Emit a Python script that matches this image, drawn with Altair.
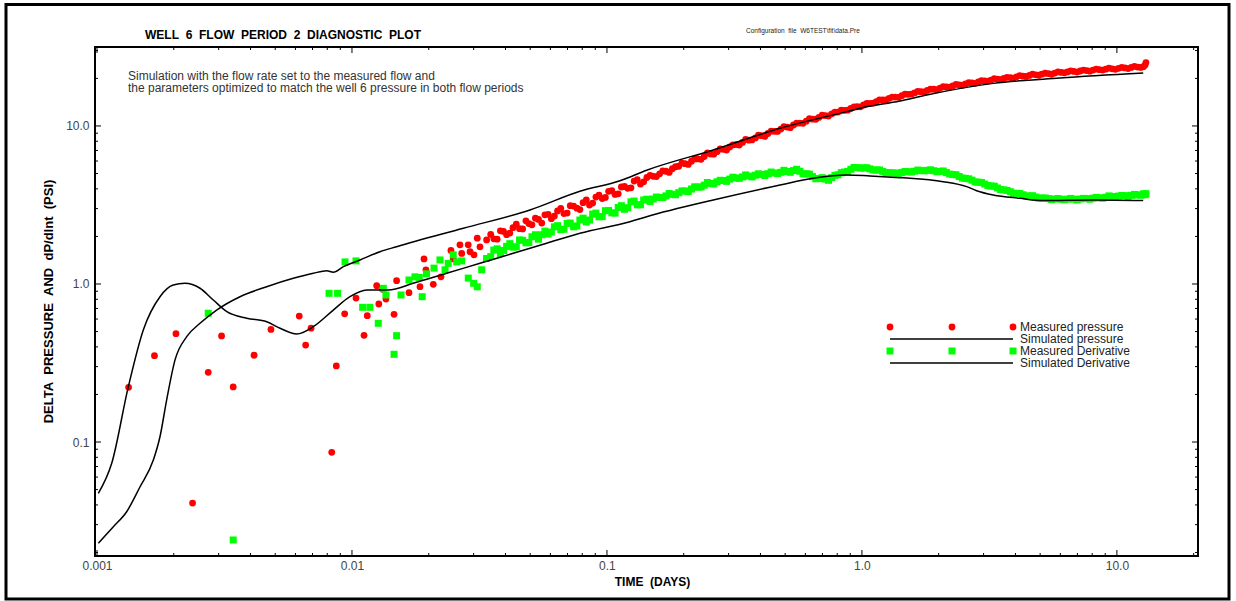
import altair as alt
import pandas as pd

# ---------------------------------------------------------------
# Well 6, flow period 2 - log-log diagnostic plot
# ---------------------------------------------------------------

# Simulated (model) pressure change, psi vs time, days
sim_p_t = [0.001012, 0.001159, 0.001307, 0.001475, 0.001663, 0.001766, 0.001876, 0.002023,
           0.002248, 0.002535, 0.002946, 0.003637, 0.004628, 0.005886, 0.007052, 0.007961,
           0.008448, 0.00925, 0.01075, 0.01288, 0.01496, 0.02733, 0.0499, 0.0783, 0.1124,
           0.1431, 0.2611, 0.477, 0.871, 0.982, 1.409, 1.794, 3.273, 5.976, 12.68]
sim_p_v = [0.0229, 0.0291, 0.0362, 0.0521, 0.0769, 0.108, 0.185, 0.331, 0.464, 0.564,
           0.684, 0.831, 0.961, 1.086, 1.169, 1.213, 1.186, 1.287, 1.419, 1.601,
           1.722, 2.252, 2.94, 3.86, 4.50, 5.25, 7.05, 9.67, 12.32, 12.95,
           14.39, 15.7, 18.6, 20.1, 21.6]

# Simulated (model) derivative dP/dlnt
sim_d_t = [0.001012, 0.001142, 0.001327, 0.001519, 0.001766, 0.00199, 0.002213, 0.002535,
           0.002858, 0.00323, 0.003864, 0.004628, 0.005223, 0.006074, 0.007052, 0.008448,
           0.00982, 0.01143, 0.01388, 0.01738, 0.0235, 0.03177, 0.0429, 0.058, 0.0783,
           0.123, 0.1431, 0.2611, 0.477, 0.644, 0.871, 1.075, 1.409, 1.542, 2.084, 2.574,
           2.818, 3.273, 4.165, 5.14, 8.07, 12.68]
sim_d_v = [0.0473, 0.0733, 0.224, 0.512, 0.831, 0.985, 1.01, 0.94, 0.792, 0.668,
           0.607, 0.577, 0.525, 0.483, 0.537, 0.684, 0.831, 0.916, 0.916, 1.01,
           1.169, 1.352, 1.564, 1.81, 2.094, 2.48, 2.667, 3.40, 4.23, 4.67,
           4.90, 4.83, 4.71, 4.67, 4.44, 4.13, 3.895, 3.66, 3.486, 3.37, 3.40, 3.37]

# Measured pressure, early (sparse) readings
meas_p_early_t = [0.00133, 0.00168, 0.00204, 0.00237, 0.00273, 0.00308, 0.00342, 0.00413,
                  0.00481, 0.00621, 0.00658, 0.00691, 0.00833, 0.00868, 0.00936, 0.01037,
                  0.01115, 0.01148, 0.0125, 0.01274, 0.01318, 0.01359, 0.01462, 0.01496,
                  0.01673, 0.01848, 0.01916, 0.0195, 0.02084, 0.02234, 0.02444, 0.02495,
                  0.02651, 0.02693, 0.02857, 0.02904, 0.0301, 0.0310, 0.03177, 0.03373]
meas_p_early_v = [0.222, 0.352, 0.485, 0.0411, 0.276, 0.469, 0.223, 0.354, 0.516, 0.627,
                  0.411, 0.525, 0.0861, 0.303, 0.648, 0.815, 0.473, 0.630, 0.976, 0.747,
                  0.926, 0.803, 0.643, 1.05, 0.881, 0.961, 1.44, 1.23, 0.995, 1.11,
                  1.63, 1.44, 1.77, 1.56, 1.77, 1.60, 1.53, 1.95, 1.72, 1.90]

# Measured derivative, early (sparse) readings
meas_d_early_t = [0.00273, 0.00342, 0.00813, 0.00878, 0.00939, 0.01037, 0.01101, 0.01175,
                  0.01268, 0.01327, 0.01359, 0.01462, 0.01496, 0.01557, 0.01673, 0.01766,
                  0.01836, 0.01885, 0.0196, 0.02098, 0.02213, 0.02317, 0.02385, 0.02495,
                  0.02574, 0.02693, 0.02858, 0.0300, 0.0310, 0.03226, 0.0337]
meas_d_early_v = [0.653, 0.0240, 0.873, 0.873, 1.38, 1.40, 0.712, 0.712, 0.564, 0.939,
                  0.852, 0.359, 0.471, 0.852, 1.06, 1.11, 1.10, 0.831, 1.16, 1.26,
                  1.42, 1.23, 1.35, 1.53, 1.38, 1.40, 1.09, 1.01, 0.96, 1.23, 1.45]

# Dense gauge record, scan A (shared time base for pressure and derivative)
dense_t = [0.0350, 0.0371, 0.0393, 0.0416, 0.0441, 0.0467, 0.0494, 0.0524, 0.0555, 0.0588,
           0.0622, 0.0659, 0.0698, 0.0740, 0.0783, 0.0830, 0.0879, 0.0931, 0.0986,
           0.1045, 0.1107, 0.1172, 0.1242, 0.1315, 0.1393, 0.1476, 0.1563, 0.1656, 0.1754,
           0.1858, 0.1968, 0.2084, 0.2208, 0.2339, 0.2477, 0.2624, 0.2780, 0.2944, 0.3119,
           0.3304, 0.3499, 0.3707, 0.3926, 0.4159, 0.4406, 0.4667, 0.4943, 0.5236, 0.5546,
           0.5875, 0.6223, 0.6592, 0.6982, 0.7396, 0.7834, 0.8299, 0.8790, 0.9311, 0.9863,
           1.045, 1.107, 1.172, 1.242, 1.315, 1.393, 1.476, 1.563, 1.656, 1.754,
           1.858, 1.968, 2.084, 2.208, 2.339, 2.477, 2.624, 2.780, 2.944, 3.119,
           3.304, 3.499, 3.707, 3.926, 4.159, 4.406, 4.667, 4.943, 5.236, 5.546,
           5.875, 6.223, 6.592, 6.982, 7.396, 7.834, 8.299, 8.790, 9.311, 9.863,
           10.45, 11.07, 11.72, 12.42, 12.7, 12.9, 13.0]
dense_p = [2.06, 1.92, 2.15, 2.10, 2.39, 2.23, 2.41, 2.61, 2.43, 2.76,
           2.69, 3.01, 2.81, 3.11, 2.96, 3.40, 3.25, 3.65, 3.53,
           3.89, 3.72, 4.14, 4.06, 4.57, 4.43, 4.87, 4.78, 5.19, 5.08,
           5.52, 5.82, 5.71, 6.19, 6.15, 6.75, 6.63, 7.15, 7.04, 7.59,
           7.57, 8.23, 8.16, 8.74, 8.58, 9.27, 9.23, 9.92, 9.76, 10.42,
           10.39, 11.14, 11.03, 11.69, 11.56, 12.22, 12.58, 12.59, 13.19, 13.22,
           13.90, 13.95, 14.62, 14.60, 15.23, 15.18, 15.89, 15.88, 16.55, 16.43,
           17.08, 16.99, 17.71, 17.62, 18.31, 18.13, 18.78, 18.61, 19.35, 19.22,
           19.91, 19.64, 20.30, 20.08, 20.81, 20.58, 21.27, 20.94, 21.56, 21.24,
           21.96, 21.69, 22.35, 21.94, 22.56, 22.20, 22.91, 22.59, 23.26, 22.82,
           23.45, 23.06, 23.81, 23.46, 23.74, 24.3, 25.2]
dense_d = [1.49, 1.67, 1.63, 1.80, 1.72, 1.89, 1.83, 2.05, 2.05, 2.07,
           2.30, 2.21, 2.42, 2.30, 2.54, 2.47, 2.77, 2.66, 2.91,
           2.82, 3.05, 2.97, 3.31, 3.17, 3.40, 3.33, 3.55, 3.52, 3.74,
           3.67, 3.88, 3.84, 4.12, 4.11, 4.39, 4.30, 4.53, 4.46, 4.74,
           4.66, 4.90, 4.76, 4.98, 4.86, 5.11, 5.00, 5.24, 5.09, 5.32,
           4.98, 4.96, 4.63, 4.71, 4.53, 4.87, 5.06, 5.16, 5.46, 5.41,
           5.44, 5.27, 5.27, 5.07, 5.05, 5.00, 5.15, 5.11, 5.26, 5.20,
           5.28, 5.13, 5.19, 4.96, 4.91, 4.68, 4.63, 4.42, 4.39, 4.20,
           4.16, 3.96, 3.91, 3.75, 3.74, 3.61, 3.62, 3.49, 3.50, 3.42,
           3.47, 3.41, 3.48, 3.40, 3.48, 3.44, 3.53, 3.49, 3.61, 3.55,
           3.63, 3.59, 3.69, 3.65, 3.72, 3.67, 3.73]

# Dense gauge record, scan B (readings taken between the scan A times)
dense_t_b = [0.0360, 0.0382, 0.0404, 0.0428, 0.0454, 0.0481, 0.0508, 0.0539, 0.0571, 0.0605,
             0.0640, 0.0678, 0.0718, 0.0762, 0.0806, 0.0854, 0.0905, 0.0958, 0.1015, 0.1076,
             0.1139, 0.1206, 0.1278, 0.1353, 0.1434, 0.1519, 0.1609, 0.1704, 0.1805, 0.1912,
             0.2025, 0.2145, 0.2272, 0.2407, 0.2549, 0.2701, 0.2861, 0.3030, 0.3210, 0.3401,
             0.360, 0.382, 0.404, 0.428, 0.454, 0.481, 0.508, 0.539, 0.571, 0.605,
             0.640, 0.678, 0.718, 0.762, 0.806, 0.854, 0.905, 0.958, 1.015, 1.076,
             1.139, 1.206, 1.278, 1.353, 1.434, 1.519, 1.609, 1.704, 1.805, 1.912,
             2.025, 2.145, 2.272, 2.407, 2.549, 2.701, 2.861, 3.030, 3.210, 3.401,
             3.60, 3.82, 4.04, 4.28, 4.54, 4.81, 5.08, 5.39, 5.71, 6.05,
             6.40, 6.78, 7.18, 7.62, 8.06, 8.54, 9.05, 9.58, 10.15, 10.76,
             11.39, 12.06]
dense_p_b = [1.93, 2.17, 2.05, 2.27, 2.24, 2.51, 2.37, 2.56, 2.74, 2.59,
             2.90, 2.79, 3.13, 3.02, 3.27, 3.16, 3.55, 3.47, 3.86, 3.69,
             4.11, 4.03, 4.48, 4.29, 4.72, 4.80, 4.98, 5.17, 5.36, 5.56,
             5.77, 5.98, 6.19, 6.41, 6.64, 6.87, 7.11, 7.36, 7.62, 7.87,
             8.13, 8.40, 8.68, 8.96, 9.25, 9.55, 9.84, 10.14, 10.43, 10.73,
             11.04, 11.33, 11.63, 11.93, 12.25, 12.57, 12.90, 13.23, 13.57, 13.91,
             14.25, 14.60, 14.93, 15.24, 15.55, 15.87, 16.18, 16.47, 16.77, 17.07,
             17.36, 17.64, 17.92, 18.20, 18.48, 18.74, 19.00, 19.26, 19.52, 19.76,
             20.00, 20.24, 20.46, 20.67, 20.87, 21.08, 21.28, 21.45, 21.63, 21.80,
             21.97, 22.12, 22.27, 22.43, 22.58, 22.72, 22.87, 23.01, 23.16, 23.31,
             23.45, 23.60]
dense_d_b = [1.64, 1.56, 1.73, 1.71, 1.90, 1.82, 1.99, 1.92, 2.16, 2.13,
             2.34, 2.22, 2.43, 2.33, 2.61, 2.54, 2.81, 2.67, 2.92, 2.81,
             3.13, 3.04, 3.35, 3.17, 3.44, 3.45, 3.53, 3.61, 3.69, 3.78,
             3.88, 3.99, 4.10, 4.22, 4.33, 4.43, 4.52, 4.61, 4.69, 4.76,
             4.82, 4.88, 4.94, 4.99, 5.04, 5.09, 5.15, 5.22, 5.17, 4.98,
             4.78, 4.65, 4.61, 4.71, 4.91, 5.11, 5.32, 5.45, 5.43, 5.35,
             5.26, 5.16, 5.06, 5.04, 5.08, 5.13, 5.17, 5.22, 5.24, 5.21,
             5.16, 5.07, 4.93, 4.79, 4.66, 4.54, 4.41, 4.29, 4.17, 4.05,
             3.94, 3.84, 3.75, 3.67, 3.60, 3.55, 3.50, 3.47, 3.45, 3.44,
             3.44, 3.44, 3.45, 3.47, 3.49, 3.51, 3.54, 3.58, 3.60, 3.62,
             3.64, 3.66]

# Axis tick labels
x_tick_values = [0.001, 0.01, 0.1, 1.0, 10.0]
x_tick_labels = ["0.001", "0.01", "0.1", "1.0", "10.0"]
y_tick_values = [0.1, 1.0, 10.0]
y_tick_labels = ["0.1", "1.0", "10.0"]

legend_labels = ["Measured  pressure", "Simulated  pressure",
                 "Measured  Derivative", "Simulated  Derivative"]

# ---------------------------------------------------------------
W, H = 1103, 509
FONT = "Liberation Sans, Arial, Helvetica, sans-serif"
RED = "#ff0000"
GREEN = "#00ff00"
DOT = 46
SQ = 49

xs = alt.Scale(type="log", domain=[0.000982, 20.8], nice=False)
ys = alt.Scale(type="log", domain=[0.0190, 31.6], nice=False)


def label_expr(vals, labs):
    parts = [f"datum.value < {v * 1.5} ? '{l}'" for v, l in zip(vals[:-1], labs[:-1])]
    return " : ".join(parts) + f" : '{labs[-1]}'"


x_axis = alt.Axis(values=x_tick_values, labelExpr=label_expr(x_tick_values, x_tick_labels),
                  ticks=False, tickSize=0, domain=False, grid=False,
                  labelFont=FONT, labelFontSize=12, labelColor="#444", labelPadding=4,
                  title="TIME\u00a0\u00a0(DAYS)", titleFont=FONT, titleFontSize=12,
                  titleFontWeight="bold", titleColor="black",
                  titleX=557, titleY=25, titleBaseline="middle", titleAlign="center")
y_axis = alt.Axis(values=y_tick_values, labelExpr=label_expr(y_tick_values, y_tick_labels),
                  ticks=False, tickSize=0, domain=False, grid=False,
                  labelFont=FONT, labelFontSize=12, labelColor="#444", labelPadding=6,
                  title="DELTA\u00a0\u00a0PRESSURE\u00a0\u00a0AND\u00a0\u00a0dP/dlnt\u00a0\u00a0(PSI)",
                  titleFont=FONT, titleFontSize=13, titleFontWeight="bold", titleColor="black",
                  titleX=-47, titleY=254, titleAngle=270, titleBaseline="middle",
                  titleAlign="center")


def X(field):
    return alt.X(field, scale=xs, axis=x_axis)


def Y(field):
    return alt.Y(field, scale=ys, axis=y_axis)


meas_p = pd.DataFrame({"t": meas_p_early_t + dense_t + dense_t_b,
                       "v": meas_p_early_v + dense_p + dense_p_b})
meas_d = pd.DataFrame({"t": meas_d_early_t + dense_t + dense_t_b,
                       "v": meas_d_early_v + dense_d + dense_d_b})
sim_p = pd.DataFrame({"t": sim_p_t, "v": sim_p_v})
sim_d = pd.DataFrame({"t": sim_d_t, "v": sim_d_v})

pressure_pts = alt.Chart(meas_p).mark_point(shape="circle", filled=True, size=DOT,
                                            opacity=1, color=RED).encode(x=X("t:Q"), y=Y("v:Q"))
deriv_pts = alt.Chart(meas_d).mark_square(size=SQ, opacity=1, color=GREEN).encode(
    x=X("t:Q"), y=Y("v:Q"))


def sim_line(df):
    return alt.Chart(df).mark_line(color="black", strokeWidth=1.5,
                                   interpolate="monotone").encode(
        x=X("t:Q"), y=Y("v:Q"), order="t:Q")


# Inward-pointing frame ticks on all four sides
def minor_values(lo, hi):
    out = []
    for e in range(-4, 3):
        for m in range(2, 10):
            v = m * 10.0 ** e
            if lo <= v <= hi:
                out.append(v)
    return out


x_minor = minor_values(0.000982, 20.8)
y_minor = minor_values(0.0190, 31.6)


def x_ticks(vals, length):
    base = alt.Chart(pd.DataFrame({"t": vals})).mark_rule(color="black", strokeWidth=1)
    return [base.encode(x=X("t:Q"), y=alt.value(H), y2=alt.value(H - length)),
            base.encode(x=X("t:Q"), y=alt.value(0), y2=alt.value(length))]


def y_ticks(vals, length):
    base = alt.Chart(pd.DataFrame({"v": vals})).mark_rule(color="black", strokeWidth=1)
    return [base.encode(y=Y("v:Q"), x=alt.value(0), x2=alt.value(length)),
            base.encode(y=Y("v:Q"), x=alt.value(W), x2=alt.value(W - length))]


ticks = x_ticks(x_tick_values, 6) + x_ticks(x_minor, 3) + y_ticks(y_tick_values, 6) + y_ticks(y_minor, 3)

one = pd.DataFrame({"s": [""]})


def text(s, x, y, size=11, weight="normal", color="black", align="left"):
    return alt.Chart(pd.DataFrame({"s": [s]})).mark_text(
        font=FONT, fontSize=size, fontWeight=weight, color=color, align=align,
        baseline="middle").encode(x=alt.value(x), y=alt.value(y), text="s:N")


title = text("WELL\u00a0\u00a06\u00a0\u00a0FLOW\u00a0\u00a0PERIOD\u00a0\u00a02\u00a0\u00a0DIAGNOSTIC\u00a0\u00a0PLOT",
             50, -12, size=12, weight="bold")
config_note = text("Configuration\u00a0\u00a0file\u00a0\u00a0W6TEST\\fit\\data.Pre", 651, -16,
                   size=6.5, color="#222")
note1 = text("Simulation with the flow rate set to the measured flow and", 33, 29,
             size=12, color="#333")
note2 = text("the parameters optimized to match the well 6 pressure in both flow periods", 33, 41,
             size=12, color="#333")

# Legend block (pixel layout inside the plot frame)
leg_circles = alt.Chart(pd.DataFrame({"px": [795, 857, 918], "py": [280] * 3})).mark_point(
    shape="circle", filled=True, size=DOT, opacity=1, color=RED).encode(
    x=alt.X("px:Q", scale=None), y=alt.Y("py:Q", scale=None))
leg_squares = alt.Chart(pd.DataFrame({"px": [795, 857, 918], "py": [304] * 3})).mark_square(
    size=SQ, opacity=1, color=GREEN).encode(
    x=alt.X("px:Q", scale=None), y=alt.Y("py:Q", scale=None))
leg_line1 = alt.Chart(one).mark_rule(color="black", strokeWidth=1.5).encode(
    x=alt.value(795), x2=alt.value(918), y=alt.value(292))
leg_line2 = alt.Chart(one).mark_rule(color="black", strokeWidth=1.5).encode(
    x=alt.value(795), x2=alt.value(918), y=alt.value(316))
leg_text = alt.Chart(pd.DataFrame({"label": legend_labels, "px": [925] * 4,
                                   "py": [280, 292, 304, 316]})).mark_text(
    font=FONT, fontSize=12, color="#222", align="left", baseline="middle").encode(
    x=alt.X("px:Q", scale=None), y=alt.Y("py:Q", scale=None), text="label:N")

# Page border
border = alt.Chart(one).mark_rect(fillOpacity=0, stroke="black", strokeWidth=3).encode(
    x=alt.value(-89), x2=alt.value(1134), y=alt.value(-42.5), y2=alt.value(552))

chart = alt.layer(
    pressure_pts, deriv_pts, sim_line(sim_p), sim_line(sim_d), *ticks,
    title, config_note, note1, note2,
    leg_circles, leg_squares, leg_line1, leg_line2, leg_text, border,
).properties(
    width=W, height=H,
    padding={"left": 95, "top": 47, "right": 38, "bottom": 45},
    autosize=alt.AutoSizeParams(type="none"),
    background="white",
).configure_view(stroke="black", strokeWidth=2)

chart.save("out.html", embed_options={"renderer": "svg", "actions": False})
